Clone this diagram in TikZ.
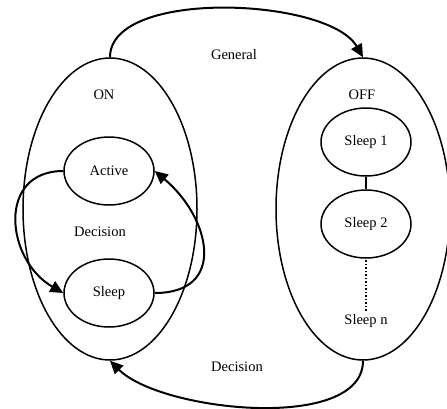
\documentclass[tikz,border=0pt]{standalone}
\usepackage{fontspec}
\setmainfont{Liberation Serif}
\usetikzlibrary{shapes.geometric,arrows.meta}

\tikzstyle{mode}=[shape=ellipse,draw,line width=1.5pt,minimum width=174pt,minimum height=302pt,inner sep=0pt]
\tikzstyle{state}=[shape=ellipse,draw,line width=1.5pt,minimum width=90pt,minimum height=68pt,inner sep=0pt]
\tikzstyle{mainedge}=[-{Triangle[length=13pt,width=12pt]},line width=2pt]
\tikzstyle{linkedge}=[line width=1.5pt]
\tikzstyle{lightedge}=[dotted,line width=1.5pt]

\begin{document}
\begin{tikzpicture}[x=1pt,y=-1pt,font=\fontsize{14.5}{17}\selectfont]
\useasboundingbox (0,0) rectangle (447,408);
% ON mode
\node[mode] (on) at (110,209) {};
\node (onlabel) at (104,95) {ON};
\node[state] (active) at (109,171) {Active};
\node[state] (sleep) at (109,293) {Sleep};
\node (innerdec) at (100,232) {Decision};
% OFF mode
\node[mode] (off) at (363,209) {};
\node (offlabel) at (362,95) {OFF};
\node[state] (sleep1) at (366,142) {Sleep 1};
\node[state] (sleep2) at (366,224) {Sleep 2}
    edge[linkedge] (sleep1);
\node (sleepn) at (366,321) {Sleep n}
    edge[lightedge] (sleep2);
% transitions
\node (general) at (234,55) {General};
\node (outerdec) at (237,367) {Decision};
\draw (on.north) edge[mainedge,out=90,in=120,looseness=0.7] (off.north);
\draw (off.south) edge[mainedge,out=-90,in=-45,looseness=0.73] (on.south);
\draw (active.west) edge[mainedge,out=180,in=150,looseness=1.4] (sleep.west);
\draw (sleep.east) edge[mainedge,out=0,in=-40,looseness=1.53] (active.east);
\end{tikzpicture}
\end{document}
